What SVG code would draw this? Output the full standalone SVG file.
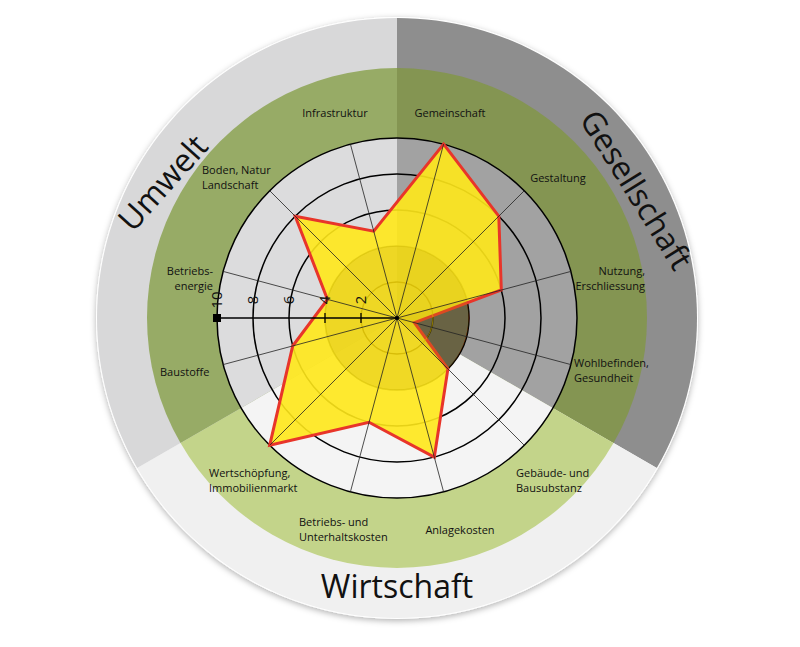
<svg xmlns="http://www.w3.org/2000/svg" width="800" height="647" viewBox="0 0 800 647">
<style>
.lbl{font-family:"Open Sans","Liberation Sans",sans-serif;font-size:11px;fill:#111}
.big{font-family:"Open Sans","Liberation Sans",sans-serif;font-size:32px;fill:#111;text-anchor:middle}
.num{font-family:"Open Sans","Liberation Sans",sans-serif;font-size:15px;fill:#111;text-anchor:middle}
.ring{fill:none;stroke:#000;stroke-width:1.5}
.ax{stroke:#222;stroke-width:0.8}
</style>
<defs>
<filter id="sh" x="-10%" y="-10%" width="120%" height="120%"><feDropShadow dx="0" dy="2" stdDeviation="3" flood-opacity="0.3"/></filter>
</defs>
<rect width="800" height="647" fill="#fff"/>
<g id="background">
<circle cx="397" cy="318" r="301" fill="#fff" filter="url(#sh)"/>
<!-- outer ring -->
<path d="M397,318 L397,18 A300,300 0 0 1 656.8,468 Z" fill="#8e8e8e"/>
<path d="M397,318 L656.8,468 A300,300 0 0 1 137.2,468 Z" fill="#f0f0f0"/>
<path d="M397,318 L137.2,468 A300,300 0 0 1 397,18 Z" fill="#d8d8d9"/>
<!-- green ring -->
<path d="M397,318 L397,68 A250,250 0 0 1 613.5,443 Z" fill="#849552"/>
<path d="M397,318 L613.5,443 A250,250 0 0 1 180.5,443 Z" fill="#c3d48a"/>
<path d="M397,318 L180.5,443 A250,250 0 0 1 397,68 Z" fill="#97ab66"/>
<!-- inner -->
<path d="M397,318 L397,138 A180,180 0 0 1 552.9,408 Z" fill="#a2a2a2"/>
<path d="M397,318 L552.9,408 A180,180 0 0 1 241.1,408 Z" fill="#f4f4f4"/>
<path d="M397,318 L241.1,408 A180,180 0 0 1 397,138 Z" fill="#dcdcdd"/>
<path d="M397,318 L466.5,299.4 A72,72 0 0 1 447.9,368.9 Z" fill="#555" stroke="#e02020" stroke-width="1"/>
<circle class="ring" cx="397" cy="318" r="180" stroke-width="2"/>
<circle class="ring" cx="397" cy="318" r="144"/>
<circle class="ring" cx="397" cy="318" r="108"/>
<circle class="ring" cx="397" cy="318" r="72"/>
<circle class="ring" cx="397" cy="318" r="36" stroke-width="1"/>
</g>
<g id="polygon">
<polygon points="443.6,144.1 498.8,216.2 501.3,290 414.4,322.7 447.9,368.9 434.3,457.1 369,422.3 269.7,445.3 292.7,346 327.5,299.4 295.2,216.2 373.7,231.1" fill="#ffe81a" fill-opacity="0.9" stroke="#e8352a" stroke-width="3" stroke-linejoin="miter"/>
<circle cx="397" cy="318" r="72" fill="#b89a00" fill-opacity="0.2"/>
<circle cx="397" cy="318" r="36" fill="none" stroke="#d4b400" stroke-opacity="0.6"/>
</g>
<g id="connectors">
<line class="ax" x1="443.6" y1="144.1" x2="350.4" y2="491.9"/>
<line class="ax" x1="524.3" y1="190.7" x2="269.7" y2="445.3"/>
<line class="ax" x1="570.9" y1="271.4" x2="223.1" y2="364.6"/>
<line class="ax" x1="570.9" y1="364.6" x2="223.1" y2="271.4"/>
<line class="ax" x1="524.3" y1="445.3" x2="269.7" y2="190.7"/>
<line class="ax" x1="443.6" y1="491.9" x2="350.4" y2="144.1"/>
<line x1="217" y1="318" x2="397" y2="318" stroke="#000" stroke-width="1.6"/>
<rect x="213" y="314" width="8" height="8" fill="#000"/>
<line x1="361" y1="313" x2="361" y2="323" stroke="#000" stroke-width="1.3"/>
<line x1="325" y1="313" x2="325" y2="323" stroke="#000" stroke-width="1.3"/>
<circle cx="397" cy="318" r="2" fill="#000"/>
</g>
<g id="scale">
<text class="num" transform="translate(366,300) rotate(-90)">2</text>
<text class="num" transform="translate(330,300) rotate(-90)">4</text>
<text class="num" transform="translate(294,300) rotate(-90)">6</text>
<text class="num" transform="translate(258,300) rotate(-90)">8</text>
<text class="num" transform="translate(222,300) rotate(-90)">10</text>
</g>
<g id="labels">
<text class="lbl" x="335" y="117" text-anchor="middle">Infrastruktur</text>
<text class="lbl" x="450" y="117" text-anchor="middle">Gemeinschaft</text>
<text class="lbl" x="558" y="182" text-anchor="middle">Gestaltung</text>
<text class="lbl" x="645" y="275" text-anchor="end">Nutzung,</text>
<text class="lbl" x="645" y="290" text-anchor="end">Erschliessung</text>
<text class="lbl" x="574" y="367">Wohlbefinden,</text>
<text class="lbl" x="574" y="382">Gesundheit</text>
<text class="lbl" x="516" y="477">Gebäude- und</text>
<text class="lbl" x="516" y="492">Bausubstanz</text>
<text class="lbl" x="460" y="534" text-anchor="middle">Anlagekosten</text>
<text class="lbl" x="299" y="526">Betriebs- und</text>
<text class="lbl" x="299" y="541">Unterhaltskosten</text>
<text class="lbl" x="209" y="477">Wertschöpfung,</text>
<text class="lbl" x="209" y="492">Immobilienmarkt</text>
<text class="lbl" x="160" y="376">Baustoffe</text>
<text class="lbl" x="213" y="275" text-anchor="end">Betriebs-</text>
<text class="lbl" x="213" y="290" text-anchor="end">energie</text>
<text class="lbl" x="202" y="174">Boden, Natur</text>
<text class="lbl" x="202" y="189">Landschaft</text>
<text class="big" transform="translate(163,183) rotate(-48)" y="11">Umwelt</text>
<text class="big" transform="translate(636,190) rotate(58)" y="11">Gesellschaft</text>
<text class="big" x="397" y="598">Wirtschaft</text>
</g>
</svg>
